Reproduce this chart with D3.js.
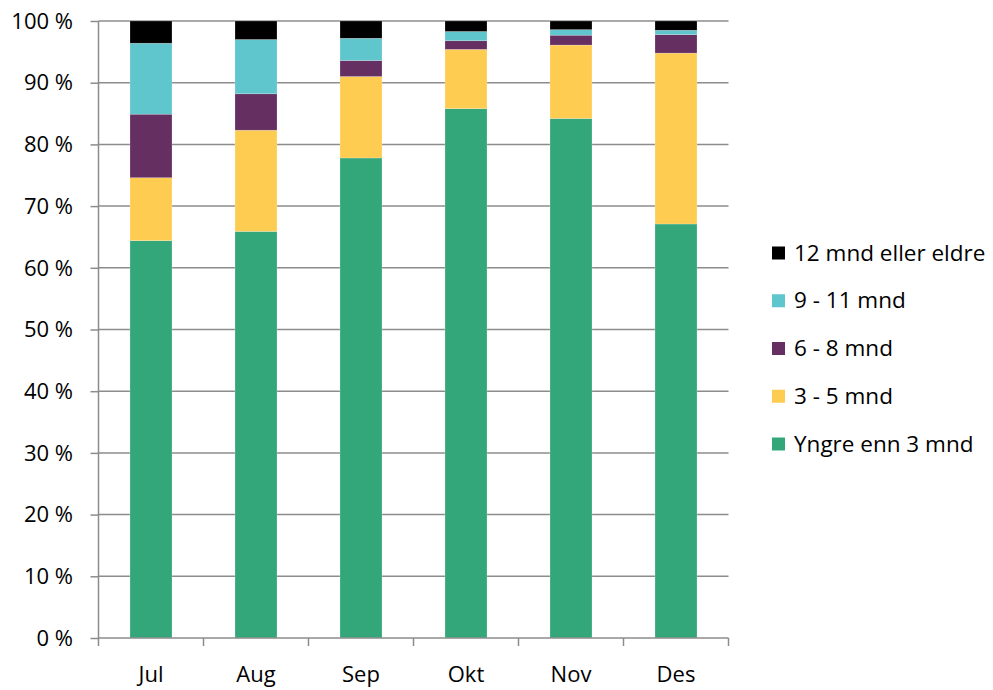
<!DOCTYPE html>
<html>
<head>
<meta charset="utf-8">
<script src="https://cdn.jsdelivr.net/npm/d3@7"></script>
<style>
  html, body { margin: 0; padding: 0; background: #fff; }
  svg text { font-family: "Open Sans", Lato, sans-serif; fill: #000; }
</style>
</head>
<body>
<svg id="chart" width="993" height="690"></svg>
<script>
// Months shown on the x axis
const months = ["Jul", "Aug", "Sep", "Okt", "Nov", "Des"];

// Share (%) of each age group per month
const yngre3   = [64.4, 65.9, 77.8, 85.8, 84.2, 67.1];
const mnd3to5  = [10.2, 16.4, 13.2,  9.6, 11.9, 27.7];
const mnd6to8  = [10.3,  5.9,  2.6,  1.4,  1.6,  3.0];
const mnd9to11 = [11.5,  8.8,  3.6,  1.5,  0.9,  0.7];
const mnd12    = [ 3.6,  3.0,  2.8,  1.7,  1.4,  1.5];

// Series names, stacked bottom to top
const seriesNames = ["Yngre enn 3 mnd", "3 - 5 mnd", "6 - 8 mnd", "9 - 11 mnd", "12 mnd eller eldre"];
const seriesColors = ["#33a77a", "#ffcc52", "#652f61", "#5fc6cd", "#000000"];

const yTicks = [0, 10, 20, 30, 40, 50, 60, 70, 80, 90, 100];

const table = months.map((m, i) => ({
  month: m,
  [seriesNames[0]]: yngre3[i],
  [seriesNames[1]]: mnd3to5[i],
  [seriesNames[2]]: mnd6to8[i],
  [seriesNames[3]]: mnd9to11[i],
  [seriesNames[4]]: mnd12[i]
}));

const svg = d3.select("#chart");
const margin = { left: 98.5, right: 264.5, top: 21, bottom: 52 };
const W = 993, H = 690;

const x = d3.scaleBand().domain(months)
  .range([margin.left, W - margin.right]).paddingInner(0.6).paddingOuter(0.3);
const y = d3.scaleLinear().domain([0, 100]).range([H - margin.bottom, margin.top]);

const stack = d3.stack().keys(seriesNames);
const layers = stack(table);

// Horizontal gridlines
svg.append("g").selectAll("line").data(yTicks.filter(t => t > 0)).join("line")
  .attr("x1", margin.left).attr("x2", W - margin.right)
  .attr("y1", d => y(d)).attr("y2", d => y(d))
  .attr("stroke", "#8c8c8c").attr("stroke-width", 1.5);

// Stacked bars
svg.append("g").selectAll("g").data(layers).join("g")
  .attr("fill", (d, i) => seriesColors[i])
  .selectAll("rect").data(d => d).join("rect")
  .attr("x", d => x(d.data.month))
  .attr("width", x.bandwidth())
  .attr("y", d => y(d[1]))
  .attr("height", d => y(d[0]) - y(d[1]))
  .attr("stroke", "rgba(255,255,255,0.35)")
  .attr("stroke-width", 0.6);

// Y axis
const yAxis = d3.axisLeft(y).tickValues(yTicks).tickSize(8).tickPadding(17.5)
  .tickFormat(d => d + " %");
const gy = svg.append("g").attr("transform", `translate(${margin.left},0)`).call(yAxis);
gy.selectAll("line, path").attr("stroke", "#8c8c8c").attr("stroke-width", 1.5);
gy.select(".domain").attr("d", `M0,${y(0)}V${y(100)}`);
gy.selectAll("text").style("font-size", "22px").attr("dy", "0.33em");

// X axis with ticks at category boundaries
const gx = svg.append("g").attr("transform", `translate(0,${y(0)})`);
gx.append("line").attr("x1", margin.left).attr("x2", W - margin.right)
  .attr("stroke", "#8c8c8c").attr("stroke-width", 1.5);
const step = x.step();
const bounds = d3.range(months.length + 1).map(i => margin.left + i * step);
gx.selectAll("line.tick").data(bounds).join("line").attr("class", "tick")
  .attr("x1", d => d).attr("x2", d => d).attr("y1", 0).attr("y2", 8)
  .attr("stroke", "#8c8c8c").attr("stroke-width", 1.5);
gx.selectAll("text").data(months).join("text")
  .attr("x", d => x(d) + x.bandwidth() / 2).attr("y", 44)
  .attr("text-anchor", "middle").style("font-size", "22px").text(d => d);

// Legend, top entry is the top of the stack
const legend = svg.append("g");
const legendItems = seriesNames.map((n, i) => ({ name: n, color: seriesColors[i] })).reverse();
legendItems.forEach((it, i) => {
  const cy = 253 + i * 47.75;
  legend.append("rect").attr("x", 772).attr("y", cy - 6.5).attr("width", 13).attr("height", 13)
    .attr("fill", it.color);
  legend.append("text").attr("x", 794).attr("y", cy + 7.5)
    .style("font-size", "22.5px").text(it.name);
});
</script>
</body>
</html>
